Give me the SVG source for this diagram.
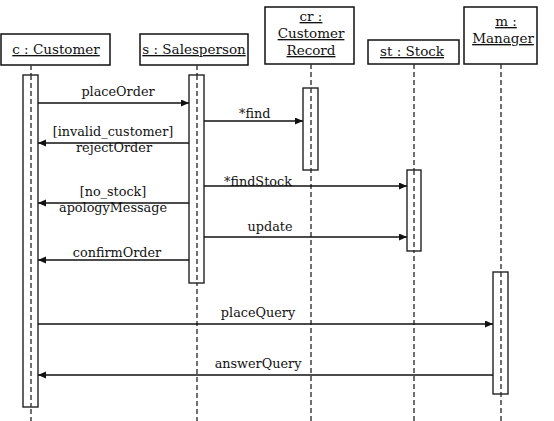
<svg xmlns="http://www.w3.org/2000/svg" width="554" height="421" viewBox="0 0 554 421">
<defs>
<marker id="ah" markerWidth="9" markerHeight="8" refX="8" refY="3.5" orient="auto" markerUnits="userSpaceOnUse">
<path d="M0,0 L8,3.5 L0,7 z" fill="#111"/>
</marker>
<style>
.box{fill:#fff;stroke:#111;stroke-width:1.5}
.act{fill:#fff;stroke:#222;stroke-width:1.4}
.life{stroke:#333;stroke-width:1.4;stroke-dasharray:5,3;fill:none}
.hd{font-family:"DejaVu Serif","Liberation Serif",serif;font-size:13.5px;fill:#111;text-anchor:middle;text-decoration:underline}
.lbl{font-family:"DejaVu Serif","Liberation Serif",serif;font-size:12.8px;fill:#111;text-anchor:middle}
.msg{stroke:#111;stroke-width:1.3;fill:none;marker-end:url(#ah)}
</style>
</defs>
<rect width="554" height="421" fill="#fff"/>
<g id="customer">
<rect class="box" x="1" y="34" width="109" height="31"/>
<text class="hd" x="56" y="54">c : Customer</text>
<line class="life" x1="31" y1="65" x2="31" y2="421"/>
<rect class="act" x="23" y="75" width="15" height="332"/>
<line class="life" x1="31" y1="75" x2="31" y2="407"/>
</g>
<g id="salesperson">
<rect class="box" x="140" y="34" width="108" height="31"/>
<text class="hd" x="194" y="54">s : Salesperson</text>
<line class="life" x1="197" y1="65" x2="197" y2="421"/>
<rect class="act" x="189" y="75" width="15" height="208"/>
<line class="life" x1="197" y1="75" x2="197" y2="283"/>
</g>
<g id="customerrecord">
<rect class="box" x="265" y="7" width="89" height="57"/>
<text class="hd" x="311" y="21">cr :</text>
<text class="hd" x="311" y="38">Customer</text>
<text class="hd" x="311" y="55">Record</text>
<line class="life" x1="311" y1="64" x2="311" y2="421"/>
<rect class="act" x="303" y="88" width="15" height="82"/>
<line class="life" x1="311" y1="88" x2="311" y2="170"/>
</g>
<g id="stock">
<rect class="box" x="368" y="40" width="91" height="24"/>
<text class="hd" x="412" y="56">st : Stock</text>
<line class="life" x1="414" y1="64" x2="414" y2="421"/>
<rect class="act" x="407" y="170" width="14" height="81"/>
<line class="life" x1="414" y1="170" x2="414" y2="251"/>
</g>
<g id="manager">
<rect class="box" x="464" y="7" width="73" height="57"/>
<text class="hd" x="506" y="26">m : </text>
<text class="hd" x="503" y="43">Manager</text>
<line class="life" x1="501" y1="64" x2="501" y2="421"/>
<rect class="act" x="493" y="272" width="15" height="122"/>
<line class="life" x1="501" y1="272" x2="501" y2="394"/>
</g>
<g id="connectors">
<line class="msg" x1="38" y1="103" x2="189" y2="103"/>
<text class="lbl" x="118" y="96">placeOrder</text>
<line class="msg" x1="204" y1="121" x2="303" y2="121"/>
<text class="lbl" x="239" y="118" style="text-anchor:start">*find</text>
<line class="msg" x1="189" y1="143" x2="38" y2="143"/>
<text class="lbl" x="113" y="136">[invalid_customer]</text>
<text class="lbl" x="114" y="152">rejectOrder</text>
<line class="msg" x1="204" y1="186" x2="407" y2="186"/>
<text class="lbl" x="224" y="186" style="text-anchor:start">*findStock</text>
<line class="msg" x1="189" y1="203" x2="38" y2="203"/>
<text class="lbl" x="113" y="196">[no_stock]</text>
<text class="lbl" x="113" y="212">apologyMessage</text>
<line class="msg" x1="204" y1="237" x2="407" y2="237"/>
<text class="lbl" x="270" y="231">update</text>
<line class="msg" x1="189" y1="260" x2="38" y2="260"/>
<text class="lbl" x="117" y="257">confirmOrder</text>
<line class="msg" x1="38" y1="324" x2="493" y2="324"/>
<text class="lbl" x="258" y="317">placeQuery</text>
<line class="msg" x1="493" y1="375" x2="38" y2="375"/>
<text class="lbl" x="258" y="368">answerQuery</text>
</g>
</svg>
